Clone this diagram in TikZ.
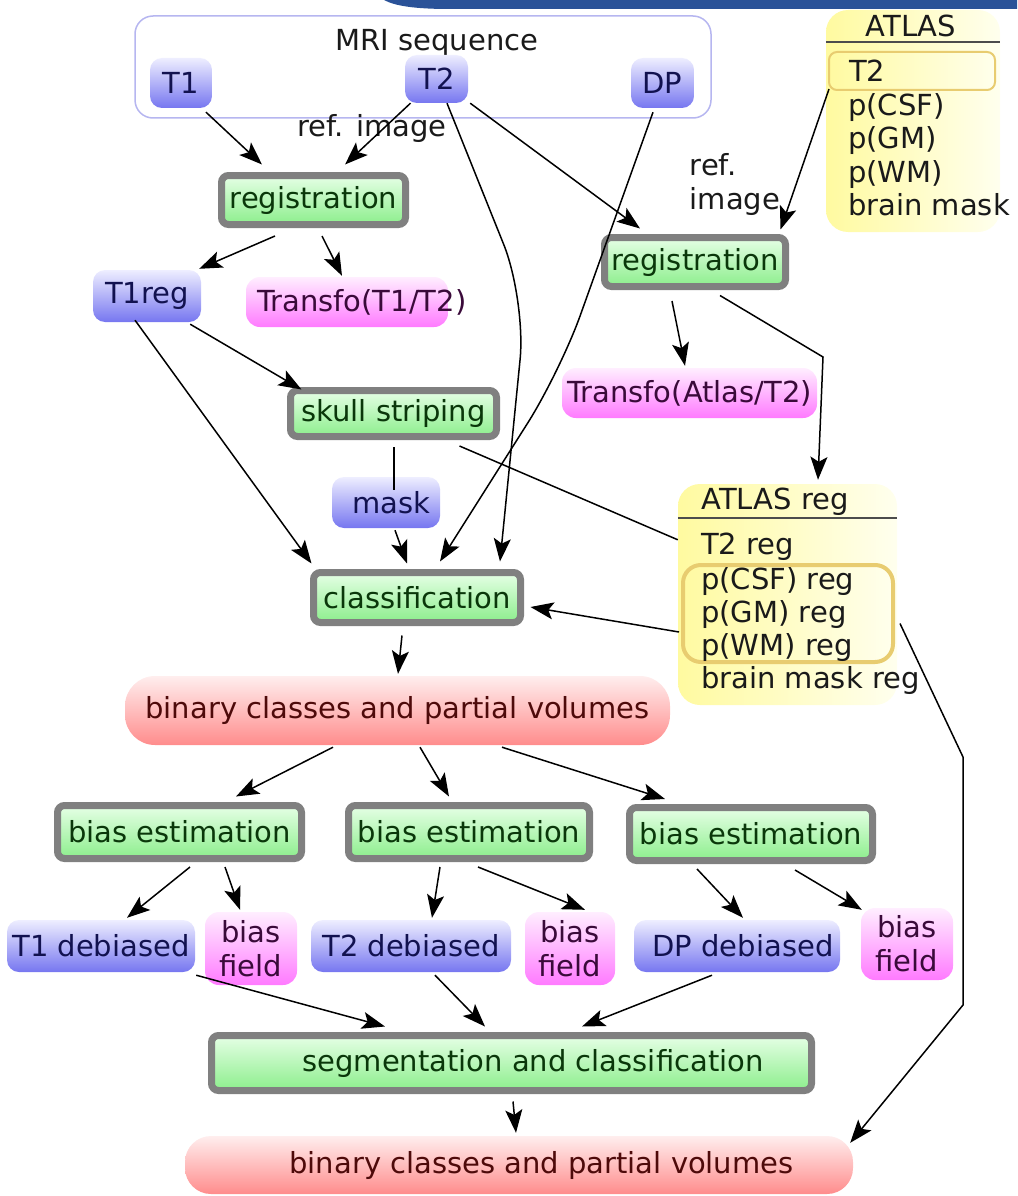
\documentclass[tikz,border=0pt]{standalone}
\usepackage{fontspec}
\setmainfont{DejaVu Sans}
\usetikzlibrary{calc,arrows.meta}
\definecolor{bluetop}{RGB}{238,238,255}
\definecolor{bluebot}{RGB}{118,118,240}
\definecolor{bluetext}{RGB}{18,18,80}
\definecolor{greentop}{RGB}{230,255,230}
\definecolor{greenbot}{RGB}{140,238,140}
\definecolor{greentext}{RGB}{10,55,10}
\definecolor{procgray}{RGB}{128,128,128}
\definecolor{magtop}{RGB}{255,238,255}
\definecolor{magbot}{RGB}{255,122,255}
\definecolor{magtext}{RGB}{58,10,58}
\definecolor{redtop}{RGB}{255,238,238}
\definecolor{redbot}{RGB}{255,140,140}
\definecolor{redtext}{RGB}{78,10,10}
\definecolor{yelleft}{RGB}{255,250,160}
\definecolor{yelright}{RGB}{255,255,238}
\definecolor{hlborder}{RGB}{232,204,112}
\definecolor{mriborder}{RGB}{182,182,240}
\definecolor{barblue}{RGB}{42,82,152}
\definecolor{inktext}{RGB}{26,26,26}
\begin{document}
\begin{tikzpicture}[x=1pt,y=-1pt,
  every node/.style={font=\fontsize{29}{34}\selectfont, inner sep=0pt, text=inktext},
  blueN/.style={rounded corners=12pt, top color=bluetop, bottom color=bluebot, text=bluetext},
  procN/.style={draw=procgray, line width=7pt, rounded corners=7pt, top color=greentop, bottom color=greenbot, text=greentext},
  magN/.style={rounded corners=14pt, top color=magtop, bottom color=magbot, text=magtext, align=center},
  redN/.style={rounded corners=30pt, top color=redtop, bottom color=redbot, text=redtext},
  yelN/.style={rounded corners=22pt, left color=yelleft, right color=yelright},
  hlN/.style={draw=hlborder, rounded corners=10pt},
  arr/.style={-{Stealth[length=23pt,width=17pt,inset=5pt]}, line width=1.5pt, black},
  ln/.style={line width=1.5pt, black}
]
\useasboundingbox (0,0) rectangle (1017,1196);
\fill[barblue] (384,0) -- (1017,0) -- (1017,9) -- (450,9) .. controls (415,9) and (395,6) .. (384,0) -- cycle;

% MRI sequence group
\node[draw=mriborder, line width=1.5pt, rounded corners=18pt, fill=white, minimum width=576pt, minimum height=102pt] (mri) at (423,67) {};
\node (mrilabel) at (437,43) {MRI sequence};
\node[blueN, minimum width=62pt, minimum height=50pt] (T1) at (181,83) {T1};
\node[blueN, minimum width=63pt, minimum height=48pt] (T2) at (436.5,79) {T2};
\node[blueN, minimum width=63pt, minimum height=50pt] (DP) at (662.5,83) {DP};

% ATLAS
\node[yelN, minimum width=174pt, minimum height=222pt] (atlas) at (913,121) {};
\draw[line width=1.5pt, black!70] ($(atlas.north west)+(0,32)$) -- ($(atlas.north east)+(0,32)$);
\node[anchor=base] (atlasH) at (911,37) {ATLAS};
\node[hlN, line width=2pt, rounded corners=8pt, minimum width=166pt, minimum height=38pt] (atlasT2hl) at (912,71) {};
\node[anchor=base west] (aT2) at (849,82) {T2};
\node[anchor=base west] (aCSF) at (848,116) {p(CSF)};
\node[anchor=base west] (aGM) at (848,149) {p(GM)};
\node[anchor=base west] (aWM) at (848,182) {p(WM)};
\node[anchor=base west] (aBM) at (848,215) {brain mask};

% ATLAS reg
\node[yelN, minimum width=219pt, minimum height=221pt] (atlasreg) at (787.5,594.5) {};
\draw[line width=1.5pt, black!70] ($(atlasreg.north west)+(0,34)$) -- ($(atlasreg.north east)+(0,34)$);
\node[anchor=base] (atlasregH) at (775,509) {ATLAS reg};
\node[hlN, line width=4pt, rounded corners=18pt, minimum width=210pt, minimum height=97pt] (atlasreghl) at (788,613.5) {};
\node[anchor=base west] (rT2) at (701,554) {T2 reg};
\node[anchor=base west] (rCSF) at (701,589) {p(CSF) reg};
\node[anchor=base west] (rGM) at (701,622) {p(GM) reg};
\node[anchor=base west] (rWM) at (701,655) {p(WM) reg};
\node[anchor=base west] (rBM) at (701,688) {brain mask reg};

% processing boxes
\node[procN, minimum width=184pt, minimum height=49pt] (reg1) at (313.5,200) {registration};
\node[procN, minimum width=181pt, minimum height=49pt] (reg2) at (695,262) {registration};
\node[procN, minimum width=206pt, minimum height=46pt] (skull) at (393.5,413.5) {skull striping};
\node[procN, minimum width=207pt, minimum height=50pt] (classif) at (417,597.5) {classification};
\node[procN, minimum width=244pt, minimum height=53pt] (bias1) at (179.5,832) {bias estimation};
\node[procN, minimum width=241pt, minimum height=53pt] (bias2) at (469,832) {bias estimation};
\node[procN, minimum width=243pt, minimum height=53pt] (bias3) at (751,834) {bias estimation};
\node[procN, minimum width=600pt, minimum height=55pt] (seg) at (511.5,1063) {\makebox[600pt][c]{\hspace{43pt}segmentation and classification}};

% data nodes
\node[blueN, minimum width=108pt, minimum height=52pt] (T1reg) at (147,296) {T1reg};
\node[blueN, minimum width=108pt, minimum height=51pt] (mask) at (386,502.5) {\makebox[108pt][c]{\hspace{10pt}mask}};
\node[blueN, minimum width=188pt, minimum height=52pt] (T1deb) at (101,946) {T1 debiased};
\node[blueN, minimum width=200pt, minimum height=52pt] (T2deb) at (411,946) {T2 debiased};
\node[blueN, minimum width=206pt, minimum height=52pt] (DPdeb) at (737,946) {\makebox[206pt][c]{\hspace{12pt}DP debiased}};

\node[magN, minimum width=202pt, minimum height=50pt] (trans1) at (347,302) {\makebox[202pt][l]{\hspace{11pt}Transfo(T1/T2)}};
\node[magN, minimum width=255pt, minimum height=50pt] (trans2) at (689.5,393) {Transfo(Atlas/T2)};
\node[magN, minimum width=92pt, minimum height=73pt] (bf1) at (251,948.5) {bias\\field};
\node[magN, minimum width=90pt, minimum height=73pt] (bf2) at (570,948.5) {bias\\field};
\node[magN, minimum width=92pt, minimum height=72pt] (bf3) at (907,944) {bias\\field};

\node[redN, minimum width=545pt, minimum height=69pt] (bin1) at (397.5,710.5) {binary classes and partial volumes};
\node[redN, rounded corners=26pt, minimum width=668pt, minimum height=58pt] (bin2) at (519,1165) {\makebox[668pt][c]{\hspace{45pt}binary classes and partial volumes}};

% labels
\node (ref1) at (372,128) {ref. image};
\node[align=left] (ref2) at (735,184) {ref.\\image};

% waypoints
\coordinate (wpT2) at (526,300);
\coordinate (wpDP) at (560,372);
\coordinate (wpR1) at (823,357);
\coordinate (wpA1) at (963,757);
\coordinate (wpA2) at (963,1005);

% connectors
\draw[arr] ($(T1.south)+(25,4)$) -- ($(reg1.north)+(-51.5,-7.5)$);
\draw[arr] ($(T2.south)+(-26,0)$) -- ($(reg1.north)+(31.5,-7.5)$);
\draw[arr, rounded corners=60pt] ($(T2.south)+(10.5,0)$) -- (wpT2) -- ($(classif.north)+(83,-7.5)$);
\draw[arr] ($(T2.south east)+(2,0)$) -- ($(reg2.north)+(-55,-5.5)$);
\draw[arr, rounded corners=60pt] ($(DP.south)+(-9.5,4)$) -- (wpDP) -- ($(classif.north)+(23,-7.5)$);
\draw[arr] ($(atlasT2hl.south west)+(1,-2)$) -- ($(reg2.north east)+(-8.5,-4.5)$);
\draw[arr] ($(reg1.south)+(-38.5,8)$) -- ($(T1reg.north east)+(-2,-1)$);
\draw[arr] ($(reg1.south)+(8.5,8)$) -- ($(trans1.north)+(-5,-1)$);
\draw[arr] ($(T1reg.south east)+(-11,2)$) -- ($(skull.north west)+(14.5,2.5)$);
\draw[arr] ($(T1reg.south)+(-12,-2)$) -- ($(classif.north west)+(1.5,-5.5)$);
\draw[ln] ($(skull.south)+(0.5,7)$) -- ($(mask.north)+(8,13)$);
\draw[arr] ($(mask.south)+(9,2)$) -- ($(classif.north)+(-10,-5.5)$);
\draw[ln] ($(skull.south)+(66,6)$) -- ($(atlasreg.north west)+(0,56)$);
\draw[arr] ($(reg2.south)+(25,5.5)$) -- (wpR1) -- ($(atlasreg.north)+(30.5,-4)$);
\draw[arr] ($(reg2.south)+(-23,11)$) -- ($(trans2.north)+(-4.5,-2)$);
\draw[arr] ($(atlasreghl.west)+(-2,18.5)$) -- ($(classif.east)+(6.5,9.5)$);
\draw[arr] ($(classif.south)+(-15,9.5)$) -- ($(bin1.north)+(0.5,-2)$);
\draw[arr] ($(bin1.south)+(-64.5,2)$) -- ($(bias1.north)+(56.5,-5.5)$);
\draw[arr] ($(bin1.south)+(22.5,2)$) -- ($(bias2.north)+(-20,-5.5)$);
\draw[arr] ($(bin1.south)+(104.5,2)$) -- ($(bias3.north)+(-86,-5)$);
\draw[arr] ($(bias1.south)+(10.5,5)$) -- ($(T1deb.north)+(26,-2)$);
\draw[arr] ($(bias1.south)+(45.5,5)$) -- ($(bf1.north)+(-11,-2)$);
\draw[arr] ($(bias2.south)+(-29,5)$) -- ($(T2deb.north)+(21,-2)$);
\draw[arr] ($(bias2.south)+(9,5)$) -- ($(bf2.north)+(15,-2)$);
\draw[arr] ($(bias3.south)+(-54,5)$) -- ($(DPdeb.north)+(6,-2)$);
\draw[arr] ($(bias3.south)+(44,6)$) -- ($(bf3.north west)+(1,2)$);
\draw[arr] ($(T1deb.south east)+(1,3)$) -- ($(seg.north)+(-126.5,-5.5)$);
\draw[arr] ($(T2deb.south)+(24,3)$) -- ($(seg.north)+(-26.5,-5.5)$);
\draw[arr] ($(DPdeb.south)+(-25,3)$) -- ($(seg.north)+(70.5,-5.5)$);
\draw[arr] ($(seg.south)+(1.5,7.5)$) -- ($(bin2.north)+(-3,-3)$);
\draw[arr] ($(atlasreghl.east)+(5,10)$) -- (wpA1) -- (wpA2) -- ($(bin2.north east)+(-3,7)$);
\end{tikzpicture}
\end{document}
